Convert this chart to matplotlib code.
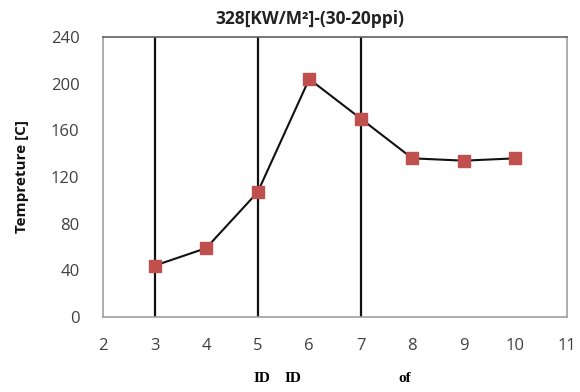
import matplotlib
matplotlib.use("Agg")
import matplotlib.pyplot as plt

x_vals = [3, 4, 5, 6, 7, 8, 9, 10]
temps = [44, 59, 107, 204, 170, 136, 134, 136]
vlines_x = [3, 5, 7]
x_ticks = [2, 3, 4, 5, 6, 7, 8, 9, 10, 11]
y_ticks = [0, 40, 80, 120, 160, 200, 240]
title = "328[KW/M²]-(30-20ppi)"
ylabel = "Tempreture [C]"
xlabel_parts = [("ID", 262), ("ID", 293), ("of", 405)]

fig = plt.figure(figsize=(5.8, 3.92), dpi=100)
ax = fig.add_axes([103/580, 1-317/392, (567-103)/580, (317-37)/392])

for xv in vlines_x:
    ax.axvline(xv, color="#111111", lw=1.6, zorder=2)
ax.plot(x_vals, temps, color="#111111", lw=1.5, marker="s", markersize=8,
        markerfacecolor="#C0504D", markeredgecolor="#C0504D", zorder=3)

ax.set_xlim(2, 11)
ax.set_ylim(0, 240)
ax.set_xticks(x_ticks)
ax.set_yticks(y_ticks)
ax.tick_params(length=0, labelsize=12, colors="#404040")
for lab in ax.get_xticklabels() + ax.get_yticklabels():
    lab.set_fontfamily("Open Sans")
ax.tick_params(axis="y", pad=17)
ax.tick_params(axis="x", pad=15)
for s in ["left", "bottom", "right"]:
    ax.spines[s].set_color("#A0A0A0")
    ax.spines[s].set_linewidth(1.2)
ax.spines["top"].set_color("#606060")
ax.spines["top"].set_linewidth(1.2)

fig.text(310/580, 1-19/392, title, ha="center", va="center", fontsize=12.5,
         fontweight="bold", family="Open Sans", color="#222222")
fig.text(22/580, 1-176/392, ylabel, ha="center", va="center", rotation=90,
         fontsize=11, fontweight="bold", family="Open Sans", color="#111111")
for txt, px in xlabel_parts:
    fig.text(px/580, 1-378/392, txt, ha="center", va="center", fontsize=11,
             fontweight="bold", family="Liberation Serif", color="#000000")

fig.savefig("out.png", dpi=100)
